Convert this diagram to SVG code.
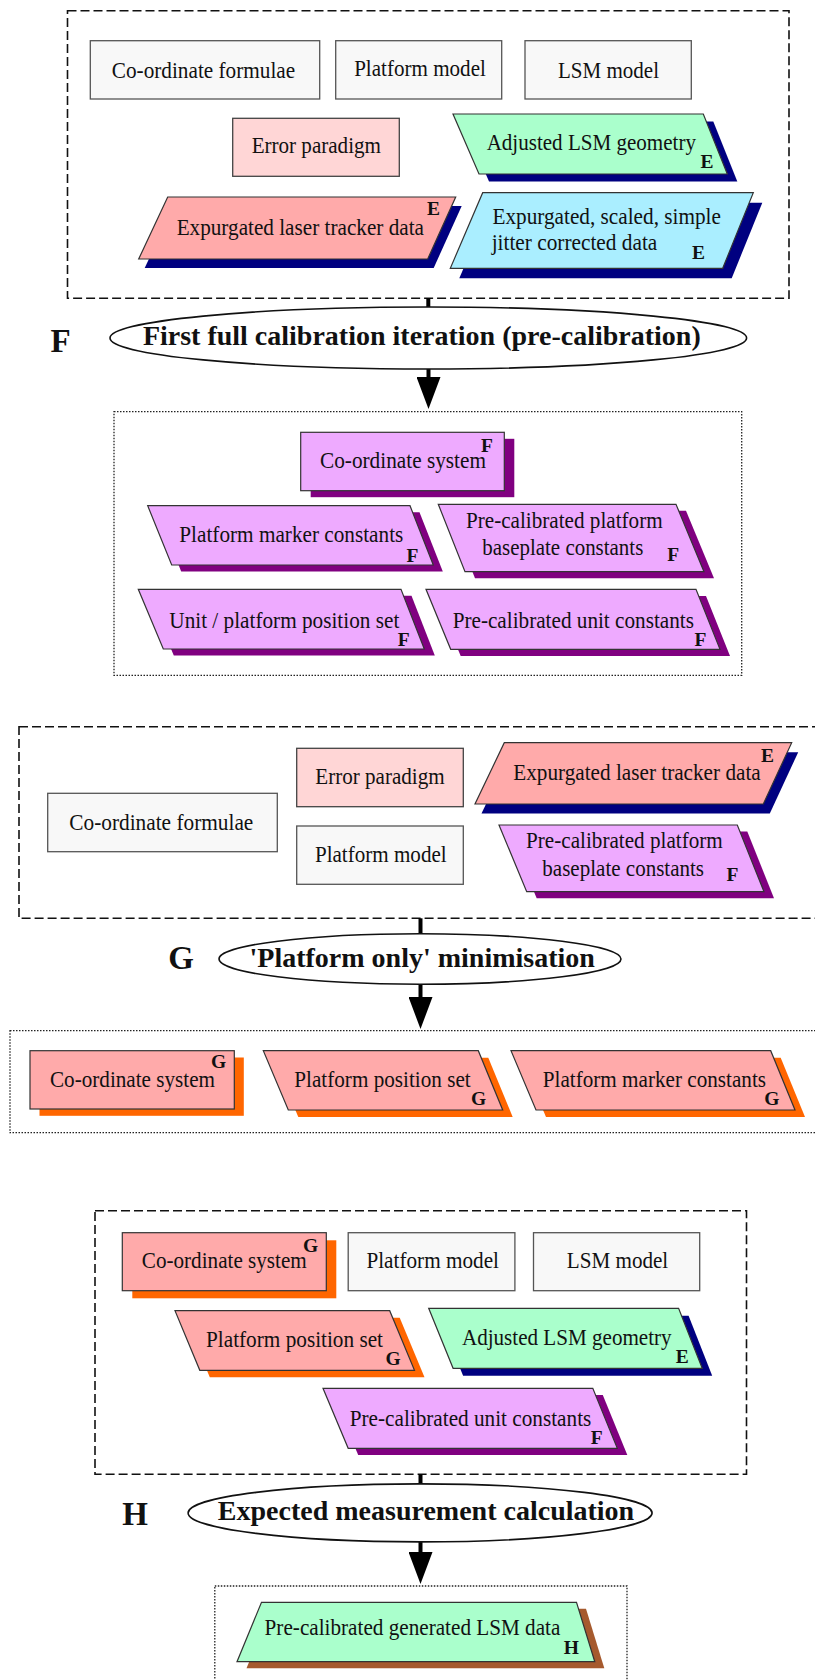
<svg xmlns="http://www.w3.org/2000/svg" width="815" height="1680" viewBox="0 0 815 1680">
  <defs>
    <style>
      text { font-family: "Liberation Serif", "Times New Roman", serif; fill: #111; }
      .t { font-size: 22.5px; text-anchor: middle; }
      .tl { font-size: 22.5px; }
      .tag { font-size: 19.5px; font-weight: bold; text-anchor: middle; }
      .proc { font-size: 28px; font-weight: bold; text-anchor: middle; }
      .step { font-size: 33px; font-weight: bold; }
      .grp-in { fill: none; stroke: #111; stroke-width: 1.6; stroke-dasharray: 9 4; }
      .grp-out { fill: none; stroke: #222; stroke-width: 1.3; stroke-dasharray: 1.5 1.5; }
      .plain { fill: #f8f8f8; stroke: #555; stroke-width: 1.3; }
      .err { fill: #ffd6d6; stroke: #444; stroke-width: 1.3; }
      .salmon { fill: #ffaaaa; stroke: #333; stroke-width: 1.2; }
      .mint { fill: #aaffcc; stroke: #333; stroke-width: 1.2; }
      .cyan { fill: #aaeeff; stroke: #333; stroke-width: 1.2; }
      .violet { fill: #eeaaff; stroke: #333; stroke-width: 1.2; }
      .sh-navy { fill: #000080; }
      .sh-purple { fill: #800080; }
      .sh-orange { fill: #ff6600; }
      .sh-sienna { fill: #a65a2e; }
      .oval { fill: #fff; stroke: #111; stroke-width: 1.6; }
      .link { stroke: #000; stroke-width: 4; fill: none; }
    </style>
    <marker id="head" viewBox="0 0 32 24" refX="0" refY="12" markerWidth="32" markerHeight="24" markerUnits="userSpaceOnUse" orient="auto">
      <path d="M0,0 L32,12 L0,24 z" fill="#000"/>
    </marker>
  </defs>

  <rect x="0" y="0" width="815" height="1680" fill="#fff"/>

  <!-- group boxes -->
  <g id="groups">
    <rect class="grp-in" x="67.5" y="10.7" width="721.5" height="287.6"/>
    <rect class="grp-out" x="114" y="411.7" width="627.7" height="263.6"/>
    <rect class="grp-in" x="19" y="726.7" width="820" height="191.6"/>
    <rect class="grp-out" x="10" y="1030.7" width="830" height="102"/>
    <rect class="grp-in" x="95" y="1210.7" width="651.5" height="263.6"/>
    <rect class="grp-out" x="214.8" y="1586" width="412.2" height="120"/>
  </g>

  <!-- connectors -->
  <g id="connectors">
    <line class="link" x1="428.3" y1="298.3" x2="428.3" y2="307"/>
    <line class="link" x1="428.5" y1="369" x2="428.5" y2="377" marker-end="url(#head)"/>
    <line class="link" x1="420.5" y1="918.3" x2="420.5" y2="934"/>
    <line class="link" x1="420.5" y1="984" x2="420.5" y2="997" marker-end="url(#head)"/>
    <line class="link" x1="420.5" y1="1474.3" x2="420.5" y2="1484"/>
    <line class="link" x1="420.5" y1="1541.7" x2="420.5" y2="1552" marker-end="url(#head)"/>
  </g>

  <!-- ===== stage E inputs ===== -->
  <g id="e-coord-formulae">
    <rect class="plain" x="90.3" y="40.7" width="229.4" height="58.3"/>
    <text class="t" x="203.5" y="78" textLength="183.3" lengthAdjust="spacingAndGlyphs">Co-ordinate formulae</text>
  </g>
  <g id="e-platform-model">
    <rect class="plain" x="335.7" y="40.7" width="166" height="58.3"/>
    <text class="t" x="420" y="76" textLength="131.7" lengthAdjust="spacingAndGlyphs">Platform model</text>
  </g>
  <g id="e-lsm-model">
    <rect class="plain" x="525" y="40.7" width="166.3" height="58.3"/>
    <text class="t" x="608.5" y="78" textLength="101" lengthAdjust="spacingAndGlyphs">LSM model</text>
  </g>
  <g id="e-error-paradigm">
    <rect class="err" x="232.7" y="118.3" width="166.6" height="58"/>
    <text class="t" x="316.3" y="153.3" textLength="129.3" lengthAdjust="spacingAndGlyphs">Error paradigm</text>
  </g>
  <g id="e-adjusted-lsm">
    <polygon class="sh-navy" points="463,121.5 713.3,121.5 737.3,181.5 489,181.5"/>
    <polygon class="mint" points="453,114 703.3,114 727.3,174 479,174"/>
    <text class="t" x="591.3" y="150" textLength="209.3" lengthAdjust="spacingAndGlyphs">Adjusted LSM geometry</text>
    <text class="tag" x="707" y="168">E</text>
  </g>
  <g id="e-laser-tracker">
    <polygon class="sh-navy" points="173.7,206 461.7,206 433.7,268 144.7,268"/>
    <polygon class="salmon" points="167.7,197 455.7,197 427.7,259 138.7,259"/>
    <text class="t" x="300.3" y="235" textLength="247.3" lengthAdjust="spacingAndGlyphs">Expurgated laser tracker data</text>
    <text class="tag" x="433.5" y="215">E</text>
  </g>
  <g id="e-scaled-data">
    <polygon class="sh-navy" points="491.7,202.7 762.3,202.7 731.7,278.3 459.3,278.3"/>
    <polygon class="cyan" points="482.7,192.7 753.3,192.7 722.7,268.3 450.3,268.3"/>
    <text class="tl" x="492.5" y="224" textLength="228.4" lengthAdjust="spacingAndGlyphs">Expurgated, scaled, simple</text>
    <text class="tl" x="491.7" y="250" textLength="165.6" lengthAdjust="spacingAndGlyphs">jitter corrected data</text>
    <text class="tag" x="698.5" y="259.3">E</text>
  </g>

  <!-- ===== stage F ===== -->
  <g id="f-process">
    <ellipse class="oval" cx="428.3" cy="338" rx="318.3" ry="31"/>
    <text class="proc" x="421.8" y="345">First full calibration iteration (pre-calibration)</text>
    <text class="step" x="50.4" y="351.7">F</text>
  </g>
  <g id="f-coord-system">
    <rect class="sh-purple" x="310.7" y="438.8" width="203.6" height="58.4"/>
    <rect class="violet" x="300.7" y="432.3" width="203.6" height="58.4"/>
    <text class="t" x="403" y="468.3" textLength="166" lengthAdjust="spacingAndGlyphs">Co-ordinate system</text>
    <text class="tag" x="487" y="451.7">F</text>
  </g>
  <g id="f-marker-constants">
    <polygon class="sh-purple" points="157.2,512.2 419.5,512.2 442.8,571.5 181.2,571.5"/>
    <polygon class="violet" points="147.7,505.7 410,505.7 433.3,565 171.7,565"/>
    <text class="t" x="291.3" y="541.7" textLength="224" lengthAdjust="spacingAndGlyphs">Platform marker constants</text>
    <text class="tag" x="412.5" y="561.7">F</text>
  </g>
  <g id="f-baseplate">
    <polygon class="sh-purple" points="448.3,510.8 686,510.8 714,578.2 475,578.2"/>
    <polygon class="violet" points="438.3,504.3 676,504.3 704,571.7 465,571.7"/>
    <text class="t" x="564.3" y="528.3" textLength="196.7" lengthAdjust="spacingAndGlyphs">Pre-calibrated platform</text>
    <text class="t" x="562.8" y="555" textLength="161" lengthAdjust="spacingAndGlyphs">baseplate constants</text>
    <text class="tag" x="673.3" y="561">F</text>
  </g>
  <g id="f-position-set">
    <polygon class="sh-purple" points="148.8,595.8 411.5,595.8 434.8,655.5 173.8,655.5"/>
    <polygon class="violet" points="138.3,589.3 401,589.3 424.3,649 163.3,649"/>
    <text class="t" x="284.3" y="627.7" textLength="230" lengthAdjust="spacingAndGlyphs">Unit / platform position set</text>
    <text class="tag" x="403.8" y="646">F</text>
  </g>
  <g id="f-unit-constants">
    <polygon class="sh-purple" points="436,596 706,596 730,656 460.7,656"/>
    <polygon class="violet" points="426,589.3 696,589.3 720,649.3 450.7,649.3"/>
    <text class="t" x="573.3" y="627.7" textLength="241.3" lengthAdjust="spacingAndGlyphs">Pre-calibrated unit constants</text>
    <text class="tag" x="700.5" y="646">F</text>
  </g>

  <!-- ===== stage G inputs ===== -->
  <g id="g-coord-formulae">
    <rect class="plain" x="47.7" y="793.3" width="229.6" height="58.4"/>
    <text class="t" x="161.3" y="830" textLength="184" lengthAdjust="spacingAndGlyphs">Co-ordinate formulae</text>
  </g>
  <g id="g-error-paradigm">
    <rect class="err" x="296.7" y="748.3" width="166.6" height="58.4"/>
    <text class="t" x="380" y="784.3" textLength="129.3" lengthAdjust="spacingAndGlyphs">Error paradigm</text>
  </g>
  <g id="g-platform-model">
    <rect class="plain" x="296.7" y="826" width="166.6" height="58.3"/>
    <text class="t" x="380.8" y="861.7" textLength="131.7" lengthAdjust="spacingAndGlyphs">Platform model</text>
  </g>
  <g id="g-laser-tracker">
    <polygon class="sh-navy" points="510.8,752.2 798.2,752.2 769.8,813.5 481.5,813.5"/>
    <polygon class="salmon" points="504.3,742.7 791.7,742.7 763.3,804 475,804"/>
    <text class="t" x="637" y="780" textLength="247.4" lengthAdjust="spacingAndGlyphs">Expurgated laser tracker data</text>
    <text class="tag" x="767.5" y="761.7">E</text>
  </g>
  <g id="g-baseplate">
    <polygon class="sh-purple" points="509,831.5 747.3,831.5 774,898.2 536.7,898.2"/>
    <polygon class="violet" points="499,825 737.3,825 764,891.7 526.7,891.7"/>
    <text class="t" x="624.4" y="848.3" textLength="196.7" lengthAdjust="spacingAndGlyphs">Pre-calibrated platform</text>
    <text class="t" x="623.2" y="876" textLength="161.7" lengthAdjust="spacingAndGlyphs">baseplate constants</text>
    <text class="tag" x="732.5" y="881">F</text>
  </g>

  <!-- ===== stage G ===== -->
  <g id="g-process">
    <ellipse class="oval" cx="420" cy="959" rx="201" ry="25.2"/>
    <text class="proc" x="422.2" y="966.7">'Platform only' minimisation</text>
    <text class="step" x="168.3" y="969.3">G</text>
  </g>
  <g id="g-coord-system">
    <rect class="sh-orange" x="39.5" y="1057.5" width="204.3" height="58.3"/>
    <rect class="salmon" x="30" y="1050.7" width="204.3" height="58.3"/>
    <text class="t" x="132.5" y="1086.7" textLength="165" lengthAdjust="spacingAndGlyphs">Co-ordinate system</text>
    <text class="tag" x="218.7" y="1067.7">G</text>
  </g>
  <g id="g-position-set">
    <polygon class="sh-orange" points="273.3,1057.7 488.3,1057.7 512.7,1117 298.3,1117"/>
    <polygon class="salmon" points="263.3,1050.7 478.3,1050.7 502.7,1110 288.3,1110"/>
    <text class="t" x="382.5" y="1086.7" textLength="176.4" lengthAdjust="spacingAndGlyphs">Platform position set</text>
    <text class="tag" x="478.5" y="1105">G</text>
  </g>
  <g id="g-marker-constants">
    <polygon class="sh-orange" points="521,1057.7 780.7,1057.7 805,1117 546,1117"/>
    <polygon class="salmon" points="511,1050.7 770.7,1050.7 795,1110 536,1110"/>
    <text class="t" x="654.4" y="1086.7" textLength="223.3" lengthAdjust="spacingAndGlyphs">Platform marker constants</text>
    <text class="tag" x="771.8" y="1105">G</text>
  </g>

  <!-- ===== stage H inputs ===== -->
  <g id="h-coord-system">
    <rect class="sh-orange" x="132.3" y="1240.3" width="204" height="58"/>
    <rect class="salmon" x="122.3" y="1232.7" width="204" height="58"/>
    <text class="t" x="224.3" y="1268.3" textLength="165" lengthAdjust="spacingAndGlyphs">Co-ordinate system</text>
    <text class="tag" x="310.7" y="1251.7">G</text>
  </g>
  <g id="h-platform-model">
    <rect class="plain" x="348.2" y="1232.7" width="166.7" height="58"/>
    <text class="t" x="432.7" y="1268.3" textLength="132.5" lengthAdjust="spacingAndGlyphs">Platform model</text>
  </g>
  <g id="h-lsm-model">
    <rect class="plain" x="533.5" y="1232.7" width="166.2" height="58"/>
    <text class="t" x="617.5" y="1268.3" textLength="101.5" lengthAdjust="spacingAndGlyphs">LSM model</text>
  </g>
  <g id="h-position-set">
    <polygon class="sh-orange" points="185,1317.7 399.7,1317.7 424.5,1377.3 209.8,1377.3"/>
    <polygon class="salmon" points="175,1310.7 389.7,1310.7 414.5,1370.3 199.8,1370.3"/>
    <text class="t" x="294.5" y="1346.7" textLength="177" lengthAdjust="spacingAndGlyphs">Platform position set</text>
    <text class="tag" x="393" y="1365">G</text>
  </g>
  <g id="h-adjusted-lsm">
    <polygon class="sh-navy" points="438.7,1315.8 688.6,1315.8 712.2,1375.8 463.1,1375.8"/>
    <polygon class="mint" points="428.7,1308.3 678.6,1308.3 702.2,1368.3 453.1,1368.3"/>
    <text class="t" x="566.8" y="1344.8" textLength="209.7" lengthAdjust="spacingAndGlyphs">Adjusted LSM geometry</text>
    <text class="tag" x="682.3" y="1362.5">E</text>
  </g>
  <g id="h-unit-constants">
    <polygon class="sh-purple" points="333,1395 602.8,1395 627.3,1455 358.2,1455"/>
    <polygon class="violet" points="323,1388.3 592.8,1388.3 617.3,1448.3 348.2,1448.3"/>
    <text class="t" x="470.5" y="1425.5" textLength="241.6" lengthAdjust="spacingAndGlyphs">Pre-calibrated unit constants</text>
    <text class="tag" x="596.7" y="1443.5">F</text>
  </g>

  <!-- ===== stage H ===== -->
  <g id="h-process">
    <ellipse class="oval" cx="420.1" cy="1512.9" rx="232" ry="29"/>
    <text class="proc" x="426" y="1520">Expected measurement calculation</text>
    <text class="step" x="122.2" y="1525">H</text>
  </g>
  <g id="h-generated-data">
    <polygon class="sh-sienna" points="271,1608.8 586,1608.8 604.3,1668.2 246.5,1668.2"/>
    <polygon class="mint" points="261.5,1602.3 576.5,1602.3 594.8,1661.7 237,1661.7"/>
    <text class="t" x="412.5" y="1635" textLength="295.8" lengthAdjust="spacingAndGlyphs">Pre-calibrated generated LSM data</text>
    <text class="tag" x="571.3" y="1654">H</text>
  </g>
</svg>
